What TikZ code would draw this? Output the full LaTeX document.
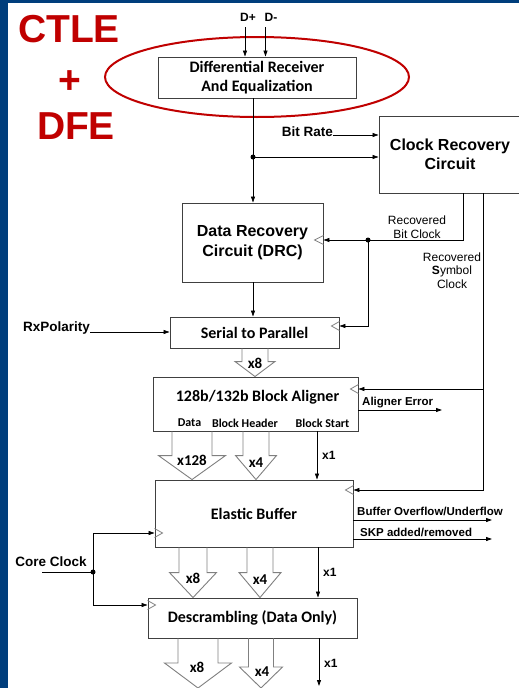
\documentclass[tikz,border=0pt]{standalone}
\usepackage{fontspec}
\setmainfont{Liberation Sans}
\newfontfamily\calibri{Carlito}
\usetikzlibrary{arrows.meta,calc}
\definecolor{slideblue}{RGB}{0,62,124}
\definecolor{ctlered}{RGB}{192,0,0}
\definecolor{boxgray}{RGB}{64,64,64}
\definecolor{fatgray}{RGB}{128,128,128}
\newcommand{\fatarr}[5]{%
  \path #1 coordinate (fa1) #2 coordinate (fa2);
  \draw[fatarrow] ([xshift=-#3]fa1) -- ([xshift=-#3,yshift=#5]fa2) -- ([xshift=-#4,yshift=#5]fa2)
    -- (fa2) -- ([xshift=#4,yshift=#5]fa2) -- ([xshift=#3,yshift=#5]fa2) -- ([xshift=#3]fa1);}
\newcommand{\clkin}[2]{%
  \path #1 coordinate (ck);
  \draw[clkmark] ([yshift=4.5]ck) -- ([xshift=#2]ck) -- ([yshift=-4.5]ck);}
\begin{document}
\begin{tikzpicture}[x=1pt,y=1pt]
\tikzstyle{every node}+=[inner sep=0pt]
\tikzstyle{blk}=[draw=boxgray,line width=0.9pt,rectangle,align=center]
\tikzstyle{wire}=[line width=0.8pt,-{Triangle[length=6pt,width=4pt]}]
\tikzstyle{fatarrow}=[draw=fatgray,line width=0.9pt,line join=miter]
\tikzstyle{clkmark}=[draw=fatgray,line width=0.8pt]
\tikzstyle{calb}=[font=\calibri\bfseries\fontsize{16}{19.5}\selectfont]
\tikzstyle{calsub}=[font=\calibri\bfseries\fontsize{12}{14}\selectfont]
\tikzstyle{calnum}=[font=\calibri\bfseries\fontsize{15}{18}\selectfont]
\tikzstyle{arb}=[font=\bfseries\fontsize{16}{19.5}\selectfont]
\tikzstyle{arsig}=[font=\bfseries\fontsize{13.5}{16}\selectfont]
\tikzstyle{arnote}=[font=\fontsize{12}{13.5}\selectfont,align=center]
\tikzstyle{arflag}=[font=\bfseries\fontsize{11.5}{14}\selectfont]
\tikzstyle{arnum}=[font=\bfseries\fontsize{12}{14}\selectfont]
\tikzstyle{bigred}=[font=\bfseries\fontsize{39}{44}\selectfont,text=ctlered]
\useasboundingbox (0,0) rectangle (519,-688);
\clip (0,0) rectangle (519,-688);
\fill[slideblue] (0,0) rectangle (519,-688);
\fill[white] (8,-3) rectangle (519,-688);
\node[bigred] (ctle) at (69,-29) {CTLE};
\node[bigred] (plus) at (70,-82) {+};
\node[bigred] (dfe) at (76,-126) {DFE};
\node[arnum] (dplus) at (248,-17) {D+};
\node[arnum] (dminus) at (271,-17) {D-};
\node[blk,calb,minimum width=198,minimum height=41] (rx) at (257,-77.5) {Differential Receiver\\And Equalization};
\node[blk,arb,minimum width=142,minimum height=77] (crc) at (450,-154.5) {Clock Recovery\\Circuit};
\node[blk,arb,minimum width=141,minimum height=79] (drc) at (252.5,-242.5) {Data Recovery\\Circuit (DRC)};
\node[blk,calb,minimum width=169,minimum height=31] (ser) at (254.5,-332.5) {Serial to Parallel};
\node[blk,minimum width=205,minimum height=54] (bal) at (255.5,-404) {};
\node[calb] (baltitle) at (257.5,-397) {128b/132b Block Aligner};
\node[calsub] (baldata) at (189.5,-423) {Data};
\node[calsub] (balhdr) at (245,-423) {Block Header};
\node[calsub] (balstart) at (322.5,-423) {Block Start};
\node[blk,calb,minimum width=198,minimum height=67] (eb) at (254,-513.5) {Elastic Buffer};
\node[blk,calb,minimum width=209,minimum height=40] (desc) at (252.5,-618) {Descrambling (Data Only)};
\draw[ctlered,line width=2pt] (257,-77) ellipse [x radius=152,y radius=40];
\coordinate (dp) at (245,-27);
\coordinate (dm) at (265.5,-27);
\draw[wire] (dp) -- (rx.north -| dp);
\draw[wire] (dm) -- (rx.north -| dm);
\coordinate (split1) at (253,-157);
\draw[wire] (rx.south -| split1) -- (drc.north -| split1);
\draw[wire] (split1) -- (crc.west |- split1);
\fill (split1) circle (2.5);
\node[arsig] (bitrate) at (307.5,-132) {Bit Rate};
\draw[wire] (bitrate.east |- 0,-135) -- (crc.west |- 0,-135);
\draw[wire] (drc.south -| split1) -- (ser.north -| split1);
\coordinate (bitclk) at (368,-240);
\coordinate (symclk) at (483,-389);
\draw[wire] (crc.south -| 463,0) |- (drc.east |- bitclk);
\draw[wire] (bitclk) |- (ser.east |- 0,-326);
\fill (bitclk) circle (2.5);
\draw[wire] (crc.south -| symclk) |- (eb.east |- 0,-490);
\draw[wire] (symclk) -- (bal.east |- symclk);
\node[arnote] (bitclktxt) at (417,-227) {Recovered\\Bit Clock};
\node[arnote] (symclktxt) at (452,-270.5) {Recovered\\\textbf{S}ymbol\\Clock};
\clkin{(drc.east |- bitclk)}{-9}
\clkin{(ser.east |- 0,-326)}{-8}
\clkin{(bal.east |- symclk)}{-8}
\clkin{(eb.east |- 0,-490)}{-8}
\clkin{(eb.west |- 0,-533)}{8}
\clkin{(desc.west |- 0,-605)}{8}
\node[arsig] (rxpol) at (56.5,-328) {RxPolarity};
\draw[wire] (rxpol.east |- 0,-332) -- (ser.west |- 0,-332);
\coordinate (alerr) at (442,-410);
\draw[wire] (bal.east |- alerr) -- (alerr);
\node[arflag,anchor=west] (alerrtxt) at (362,-403) {Aligner Error};
\coordinate (bufovf) at (492,-520);
\draw[wire] (eb.east |- bufovf) -- (bufovf);
\node[arflag,anchor=west] (bufovftxt) at (357,-511) {Buffer Overflow/Underflow};
\coordinate (skp) at (492,-539);
\draw[wire] (eb.east |- skp) -- (skp);
\node[arflag,anchor=west] (skptxt) at (360,-532) {SKP added/removed};
\fatarr{(ser.south -| 255,0)}{(bal.north -| 255,0)}{13}{20}{15}
\node[calnum] (x8a) at (255,-363) {x8};
\fatarr{(bal.south -| 192,0)}{(eb.north -| 192,0)}{20}{33.5}{24}
\node[calnum] (x128) at (192,-460) {x128};
\fatarr{(bal.south -| 256,0)}{(eb.north -| 256,0)}{13}{20.5}{24}
\node[calnum] (x4a) at (256,-463) {x4};
\draw[wire] (bal.south -| 317,0) -- (eb.north -| 317,0);
\node[arnum,anchor=west] (x1a) at (322,-455) {x1};
\fatarr{(eb.south -| 193,0)}{(desc.north -| 193,0)}{14}{23.5}{25}
\node[calnum] (x8b) at (193,-578) {x8};
\fatarr{(eb.south -| 260,0)}{(desc.north -| 260,0)}{13}{21}{25}
\node[calnum] (x4b) at (260,-580) {x4};
\draw[wire] (eb.south -| 318,0) -- (desc.north -| 318,0);
\node[arnum,anchor=west] (x1b) at (323,-572) {x1};
\coordinate (outdata) at (198,-688);
\coordinate (outhdr) at (261,-688);
\coordinate (outstart) at (319,-686);
\fatarr{(desc.south -| outdata)}{(outdata)}{20}{33.5}{25}
\node[calnum] (x8c) at (197,-667) {x8};
\fatarr{(desc.south -| outhdr)}{(outhdr)}{12.5}{21.5}{21}
\node[calnum] (x4c) at (262,-672) {x4};
\draw[wire] (desc.south -| outstart) -- (outstart);
\node[arnum,anchor=west] (x1c) at (324,-663) {x1};
\node[arsig] (coreclk) at (51,-562) {Core Clock};
\coordinate (cc0) at (42,-572);
\coordinate (ccdot) at (93,-572);
\draw[line width=0.8pt] (cc0) -- (ccdot);
\draw[wire] (ccdot) |- (eb.west |- 0,-533);
\draw[wire] (ccdot) |- (desc.west |- 0,-605);
\fill (ccdot) circle (2.5);
\end{tikzpicture}
\end{document}
